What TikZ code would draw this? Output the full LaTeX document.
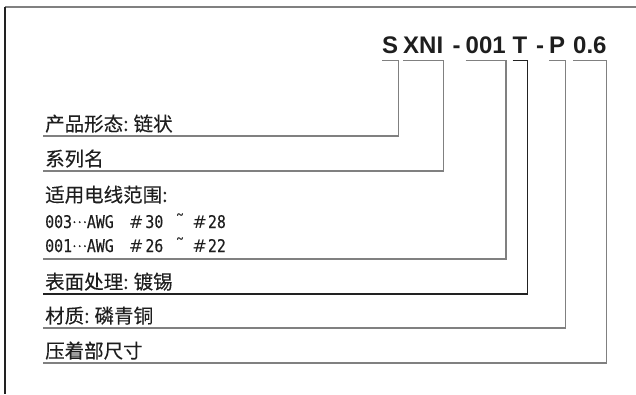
\documentclass[tikz,border=0pt]{standalone}
\usepackage{fontspec}
\newfontfamily\cjk[FakeBold=0.2]{Noto Sans CJK SC}
\newfontfamily\dejavu{DejaVu Sans}
\newfontfamily\monof[FakeStretch=0.85,FakeBold=0.2]{DejaVu Sans Mono}
\newfontfamily\titlefont{Liberation Sans}
\definecolor{lgray}{HTML}{808080}
\definecolor{dgray}{HTML}{222222}
\definecolor{txt}{HTML}{1E1E1E}
\newcommand{\mdots}{\raisebox{5pt}{\cjk\fontsize{14}{14}\selectfont …}}
\newcommand{\rtilde}{{\dejavu\fontsize{19}{19}\selectfont ˜}}
\newcommand{\hsh}{{\dejavu\#}}
\tikzset{
  grp/.style={anchor=base west, inner xsep=0pt, inner ysep=7pt, text depth=0pt, text height=0pt,
    font=\titlefont\bfseries\fontsize{24}{25}\selectfont, text=txt},
  lab/.style={anchor=base west, inner sep=0pt, text depth=0pt,
    font=\cjk\fontsize{19.5}{20}\selectfont, text=txt},
  awg/.style={anchor=base west, inner sep=0pt, text depth=0pt,
    font=\monof\fontsize{17.5}{18}\selectfont, text=txt},
  brk/.style={draw=lgray, line width=1.1pt},
  brkd/.style={draw=dgray, line width=1.1pt},
  ul/.style={shift={(-2,5)}}
}
\begin{document}
\begin{tikzpicture}[x=1pt,y=-1pt]
\useasboundingbox (0,0) rectangle (636,394);
% frame
\draw[lgray, line width=1.1pt] (5,7) -- (636,7);
\draw[dgray, line width=1.1pt] (5,7) -- (5,394);
% code groups
\node[grp] (gS) at (382,53) {S};
\node[grp] (gX) at (403,53) {XNI};
\node[grp] (d1) at (452.5,53) {-};
\node[grp] (g0) at (465.5,53) {001};
\node[grp] (gT) at (512.5,53) {T};
\node[grp] (d2) at (536,53) {-};
\node[grp] (gP) at (549,53) {P};
\node[grp] (g6) at (573,53) {0.6};
% labels
\node[lab] (l1) at (45,131) {产品形态:\hspace{5pt}链状};
\node[lab] (l2) at (45,166) {系列名};
\node[lab] (l3) at (45,202) {适用电线范围:};
\node[awg] (l4) at (45,228) {003\mdots AWG\hspace{15pt}\hsh\hspace{2pt}30\hspace{12pt}\rtilde\hspace{7.5pt}\hsh\hspace{1pt}28};
\node[awg] (l5) at (45,252) {001\mdots AWG\hspace{15pt}\hsh\hspace{2pt}26\hspace{12pt}\rtilde\hspace{7.5pt}\hsh\hspace{1pt}22};
\node[lab] (l6) at (45,289) {表面处理:\hspace{5pt}镀锡};
\node[lab] (l7) at (45,323) {材质:\hspace{5pt}磷青铜};
\node[lab] (l8) at (45,358) {压着部尺寸};
% brackets
\draw[brk]  (gS.south west) -- (gS.south east) |- ([ul]l1.base west);
\draw[brk]  (gX.south west) -- (gX.south east) |- ([ul]l2.base west);
\draw[brk]  (g0.south west) -- (g0.south east) |- ([shift={(-2,7)}]l5.base west);
\draw[brkd] (gT.south west) -- (gT.south east) |- ([ul]l6.base west);
\draw[brk]  (gP.south west) -- (gP.south east) |- ([ul]l7.base west);
\draw[brk]  (g6.south west) -- (g6.south east) |- ([ul]l8.base west);
\end{tikzpicture}
\end{document}
